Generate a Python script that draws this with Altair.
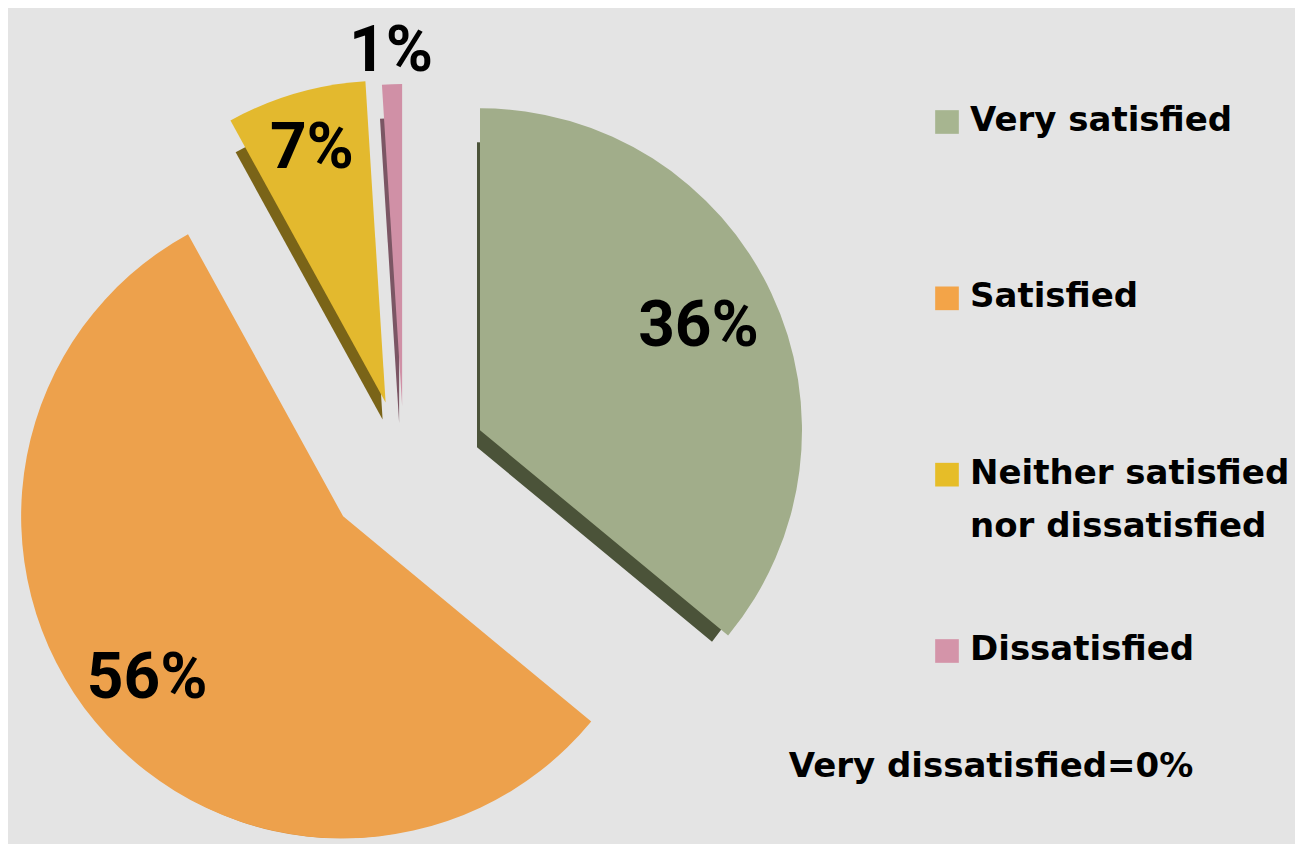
import math
import altair as alt
import pandas as pd

# ---- data ----
categories = ["Very satisfied", "Satisfied", "Neither satisfied nor dissatisfied", "Dissatisfied"]
legend_lines = ["Very satisfied", "Satisfied", "Neither satisfied\nnor dissatisfied", "Dissatisfied"]
values = [36, 56, 7, 1]
pct_labels = ["36%", "56%", "7%", "1%"]
note_text = ["Very dissatisfied=0%"]

# ---- style ----
face_colors = ["#a1ad8a", "#eda14c", "#e3b92e", "#d090a6"]
depth_colors = ["#4b5339", "#d98f3e", "#7a6418", "#7b5664"]
swatch_colors = ["#a7b590", "#f3a448", "#e6bd28", "#d494a9"]
BG = "#e4e4e4"
R = 322                       # pie radius (px)
CX, CY = 396, 458             # un-exploded pie centre (px)
explode = [84, 79, 66, 60]    # explode distance per slice (px)
label_r = [0.75, 0.79, 0.82, 1.10]  # label distance as fraction of R

# ---- derived table ----
rows = []
cum = 0.0
total = float(sum(values))
for i, (c, v) in enumerate(zip(categories, values)):
    start = cum
    end = cum + v / total * 100
    cum = end
    mid = (start + end) / 2 / 100 * 2 * math.pi
    cx = CX + explode[i] * math.sin(mid)
    cy = CY - explode[i] * math.cos(mid)
    lx = cx + label_r[i] * R * math.sin(mid)
    ly = cy - label_r[i] * R * math.cos(mid)
    rows.append(dict(cat=c, value=v, start=start, end=end, cx=cx, cy=cy,
                     lx=lx, ly=ly, pct=pct_labels[i], leg=legend_lines[i]))
df = pd.DataFrame(rows)

theta_scale = alt.Scale(domain=[0, 100], range=[0, 2 * math.pi])

base = alt.Chart(df).encode(
    x=alt.X("cx:Q", scale=None, axis=None),
    y=alt.Y("cy:Q", scale=None, axis=None),
    theta=alt.Theta("start:Q", scale=theta_scale),
    theta2="end:Q",
)

depth = base.mark_arc(outerRadius=R - 17, xOffset=-3, yOffset=17).encode(
    color=alt.Color("cat:N", scale=alt.Scale(domain=categories, range=depth_colors), legend=None)
)
faces = base.mark_arc(outerRadius=R).encode(
    color=alt.Color("cat:N", scale=alt.Scale(domain=categories, range=face_colors), legend=None)
)

labels = alt.Chart(df).mark_text(
    font="Roboto", fontWeight="bold", fontSize=64, color="black",
    align="center", baseline="middle"
).encode(
    x=alt.X("lx:Q", scale=None, axis=None),
    y=alt.Y("ly:Q", scale=None, axis=None),
    text="pct:N",
)

leg_y = alt.Y("cat:N", scale=alt.Scale(type="point", domain=categories, range=[114, 643], padding=0), axis=None)

swatches = alt.Chart(df).mark_square(size=560, opacity=1).encode(
    x=alt.value(939),
    y=leg_y,
    color=alt.Color("cat:N", scale=alt.Scale(domain=categories, range=swatch_colors), legend=None),
)

leg_text = alt.Chart(df).mark_text(
    font="DejaVu Sans", fontWeight="bold", fontSize=34, color="black",
    align="left", baseline="alphabetic", dy=9, lineBreak="\n", lineHeight=53
).encode(
    x=alt.value(962),
    y=leg_y,
    text="leg:N",
)

note = alt.Chart(pd.DataFrame({"t": note_text})).mark_text(
    font="DejaVu Sans", fontWeight="bold", fontSize=34, color="black",
    align="center", baseline="alphabetic"
).encode(
    x=alt.value(983),
    y=alt.value(769),
    text="t:N",
)

chart = alt.layer(depth, faces, labels, swatches, leg_text, note).resolve_scale(
    color="independent"
).properties(
    width=1287, height=836, background=BG, padding=0, autosize="none"
).configure_view(stroke=None)

chart.save("out.html", embed_options={"renderer": "svg", "actions": False})
